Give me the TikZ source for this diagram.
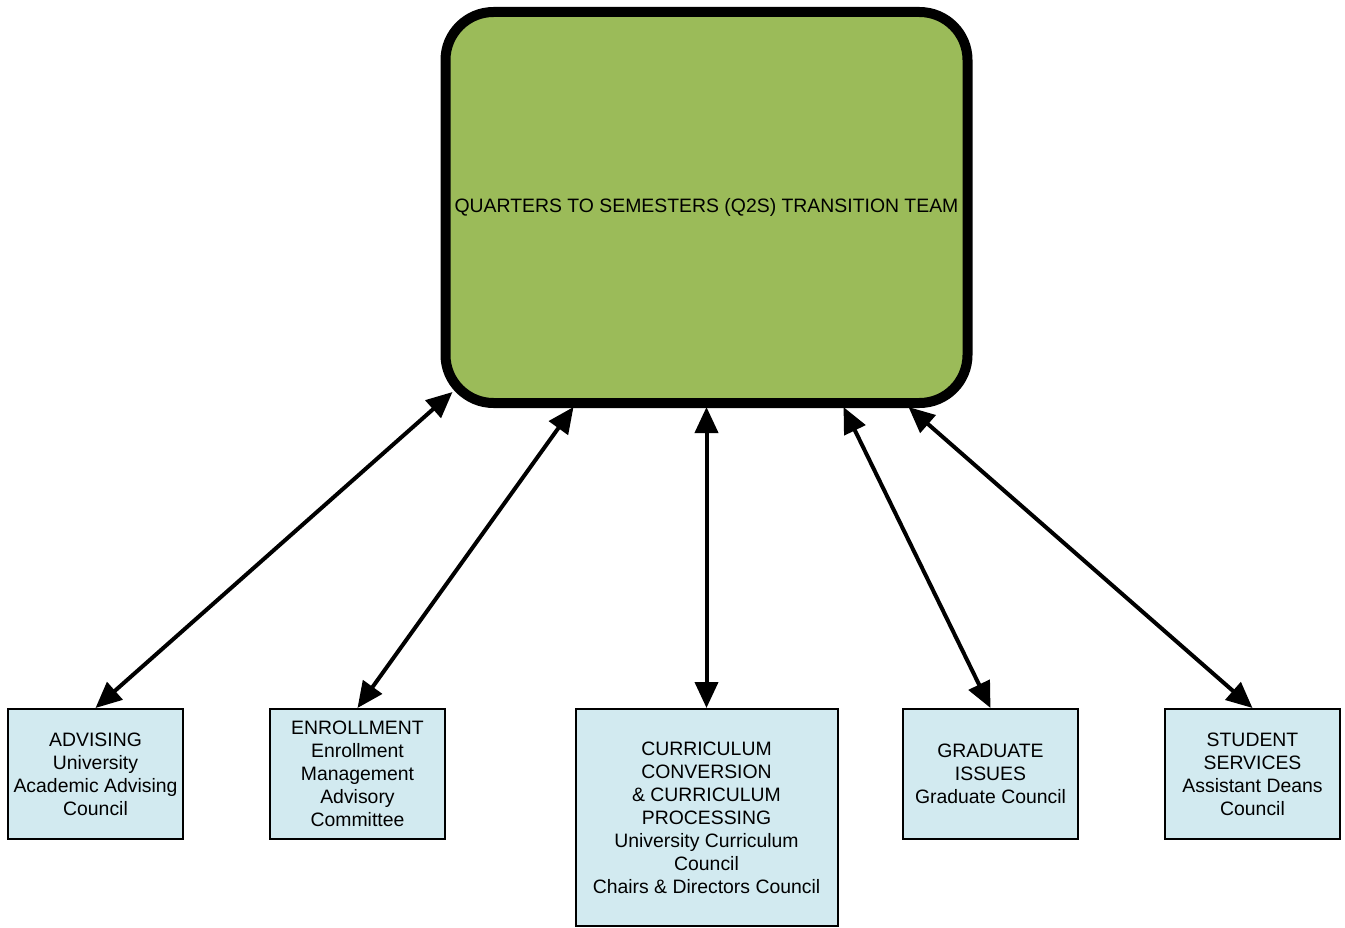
\documentclass[tikz,border=0pt]{standalone}
\usepackage{fontspec}
\setmainfont{Liberation Sans}
\usetikzlibrary{arrows.meta}
\definecolor{teamgreen}{HTML}{9BBB59}
\definecolor{boxblue}{HTML}{D2EAF0}
\begin{document}
\begin{tikzpicture}[x=1pt,y=-1pt,
  txt/.style={font=\fontsize{19.4}{23}\selectfont, align=center, text=black},
  teambox/.style={txt, draw=black, line width=10pt, fill=teamgreen, rounded corners=48pt,
    minimum width=522pt, minimum height=391pt, inner sep=0pt},
  unitbox/.style={txt, draw=black, line width=2pt, fill=boxblue,
    minimum width=175pt, minimum height=130pt, inner sep=0pt},
  link/.style={line width=4pt, {Triangle[length=26pt,width=23pt]}-{Triangle[length=26pt,width=23pt]}}]
\useasboundingbox (0,0) rectangle (1345,928);
\node[teambox] (main) at (706.5,207.5) {QUARTERS TO SEMESTERS (Q2S) TRANSITION TEAM};
\node[unitbox] (adv) at (95.5,774) {ADVISING\\University\\Academic Advising\\Council};
\node[unitbox] (enr) at (357.5,774) {ENROLLMENT\\Enrollment\\Management\\Advisory\\Committee};
\node[unitbox, minimum width=262pt, minimum height=217pt] (cur) at (706.5,817.5)
  {CURRICULUM\\CONVERSION\\\& CURRICULUM\\PROCESSING\\University Curriculum\\Council\\Chairs \& Directors Council};
\node[unitbox] (grad) at (990.5,774) {GRADUATE\\ISSUES\\Graduate Council};
\node[unitbox] (stu) at (1252.5,774) {STUDENT\\SERVICES\\Assistant Deans\\Council};
\draw[link] (adv.north) -- ([xshift=12pt,yshift=16pt]main.south west);
\draw[link] (enr.north) -- ([xshift=133pt,yshift=1pt]main.south west);
\draw[link] (cur.north) -- ([yshift=1pt]main.south);
\draw[link] (grad.north) -- ([xshift=-129pt,yshift=1pt]main.south east);
\draw[link] (stu.north) -- ([xshift=-64pt,yshift=1pt]main.south east);
\end{tikzpicture}
\end{document}
